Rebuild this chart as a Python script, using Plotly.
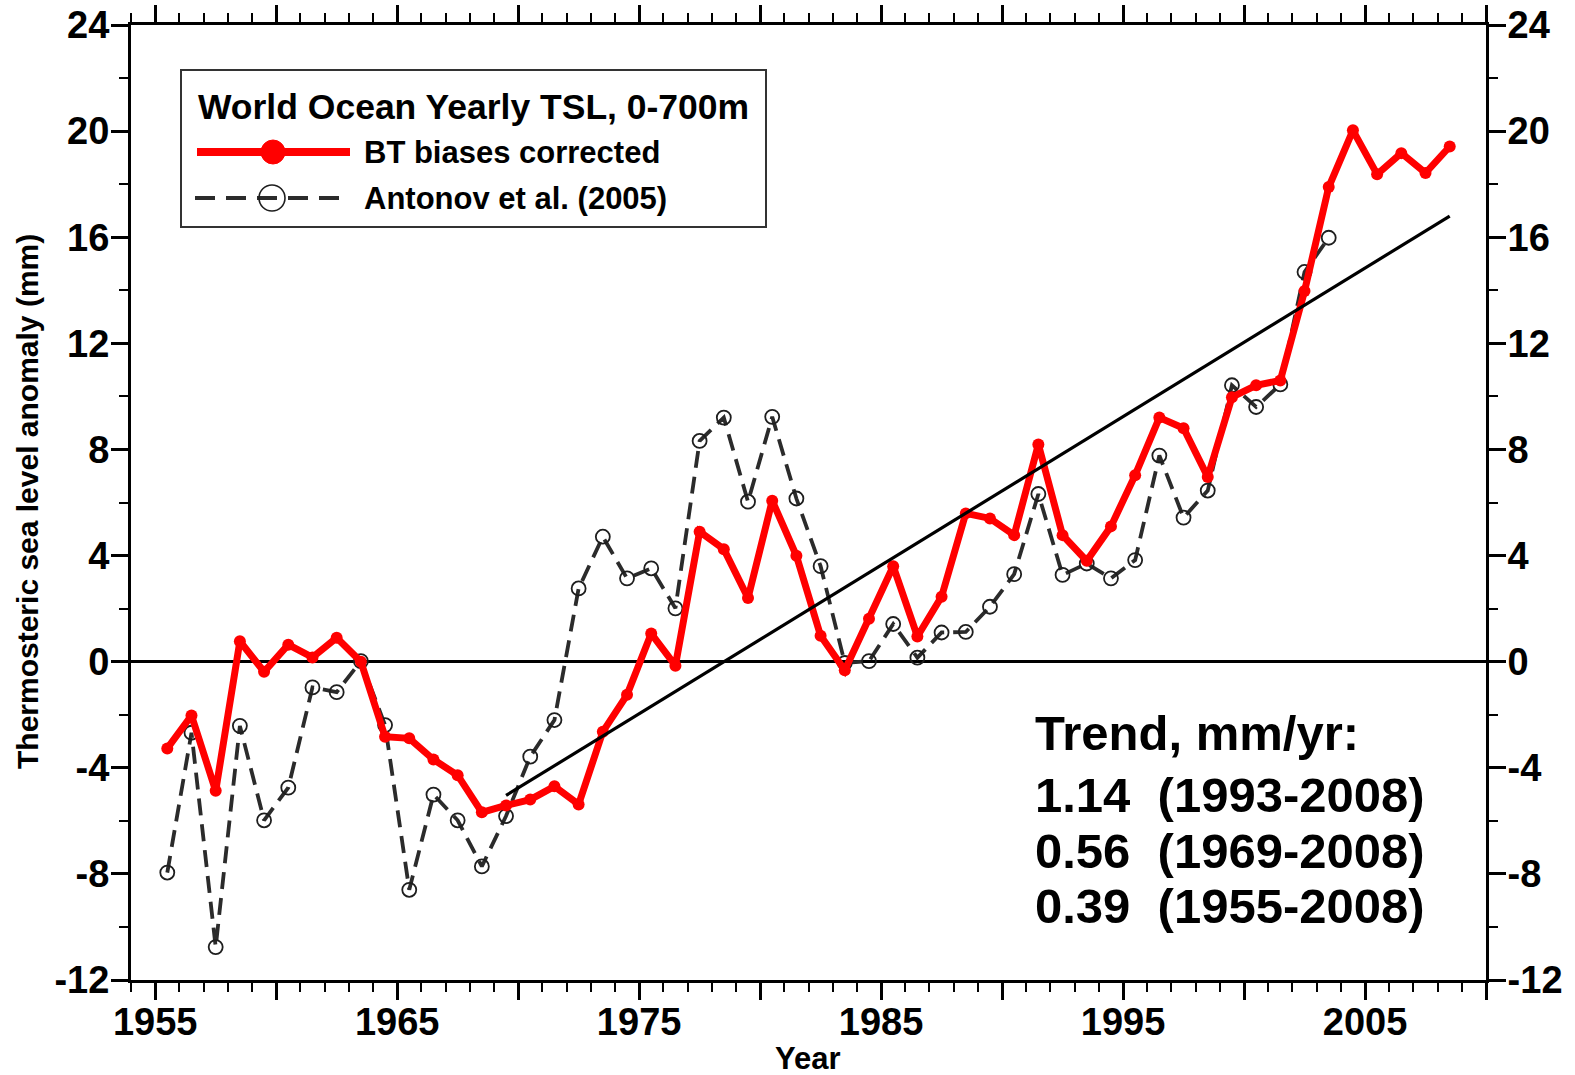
import numpy as np
import plotly.graph_objects as go

# World Ocean yearly thermosteric sea level (0-700 m), mm
years_bt = list(range(1955, 2009))
tsl_bt_corrected = [
    -3.27, -2.03, -4.87, 0.77, -0.38, 0.64, 0.16, 0.90, 0.00, -2.83,
    -2.89, -3.69, -4.28, -5.68, -5.42, -5.20, -4.70, -5.38, -2.64, -1.25,
    1.06, -0.15, 4.90, 4.24, 2.40, 6.07, 3.99, 0.98, -0.32, 1.62,
    3.60, 0.95, 2.45, 5.59, 5.40, 4.77, 8.19, 4.77, 3.80, 5.10,
    7.03, 9.20, 8.80, 6.96, 9.97, 10.42, 10.60, 13.97, 17.89, 20.03,
    18.37, 19.17, 18.42, 19.42,
]

years_antonov = list(range(1955, 2004))
tsl_antonov_2005 = [
    -7.95, -2.68, -10.76, -2.42, -5.98, -4.75, -0.97, -1.15, 0.02, -2.39,
    -8.60, -5.01, -5.98, -7.72, -5.82, -3.58, -2.20, 2.76, 4.71, 3.14,
    3.52, 2.01, 8.32, 9.20, 6.03, 9.23, 6.15, 3.60, -0.05, 0.02,
    1.42, 0.15, 1.10, 1.12, 2.07, 3.30, 6.32, 3.27, 3.70, 3.14,
    3.83, 7.77, 5.43, 6.45, 10.42, 9.60, 10.45, 14.69, 15.98,
]

# linear trends (mm/yr) quoted in the inset; the 1969-2008 one is drawn
trend_rates = ["1.14", "0.56", "0.39"]
trend_periods = ["(1993-2008)", "(1969-2008)", "(1955-2008)"]
drawn_trend_rate = 0.56
drawn_trend_period = (1969, 2008)

x_tick_values = list(range(1955, 2011, 5))
x_tick_labels = ["1955", "", "1965", "", "1975", "", "1985", "", "1995", "", "2005", ""]
y_tick_values = list(range(-12, 25, 4))
y_tick_labels = ["-12", "-8", "-4", "0", "4", "8", "12", "16", "20", "24"]

# ---------------------------------------------------------------------------
W, H = 1575, 1075
ML, MR, MT, MB = 131, 89, 25, 95
PW, PH = W - ML - MR, H - MT - MB

FONT = "Liberation Sans, Arial, Helvetica, sans-serif"


def fx(px):
    return (px - ML) / PW


def fy(py):
    return (H - MB - py) / PH


# yearly values are plotted at mid-year
x_bt = [y + 0.5 for y in years_bt]
x_ant = [y + 0.5 for y in years_antonov]

# trend line: stated rate, passing through the period mean (least-squares centre)
sel = [i for i, y in enumerate(years_bt) if drawn_trend_period[0] <= y <= drawn_trend_period[1]]
xm = np.mean([x_bt[i] for i in sel])
ym = np.mean([tsl_bt_corrected[i] for i in sel])
x_tr = [drawn_trend_period[0] + 0.5, drawn_trend_period[1] + 0.5]
y_tr = [ym + drawn_trend_rate * (x - xm) for x in x_tr]

fig = go.Figure()

fig.add_trace(go.Scatter(
    x=x_ant, y=tsl_antonov_2005, mode="lines+markers", name="Antonov et al. (2005)",
    line=dict(color="#2b2b2b", width=3.8, dash="17px,9px"),
    marker=dict(symbol="circle-open", size=14, color="#1e1e1e", line=dict(width=1.8)),
    showlegend=False, hoverinfo="x+y",
))
fig.add_trace(go.Scatter(
    x=x_bt, y=tsl_bt_corrected, mode="lines+markers", name="BT biases corrected",
    line=dict(color="#ff0000", width=7),
    marker=dict(symbol="circle", size=12, color="#ff0000"),
    showlegend=False, hoverinfo="x+y",
))
fig.add_trace(go.Scatter(
    x=x_tr, y=y_tr, mode="lines", name="Trend 1969-2008",
    line=dict(color="black", width=3.2), yaxis="y2",
    showlegend=False, hoverinfo="skip",
))

tickfont = dict(family=FONT, size=38, color="black", weight="bold")
common_y = dict(
    range=[-12, 24], tickmode="array", tickvals=y_tick_values, ticktext=y_tick_labels,
    ticks="outside", ticklen=17, tickwidth=2.5, tickcolor="black",
    showline=True, linewidth=3, linecolor="black", showgrid=False,
    tickfont=tickfont, automargin=False, ticklabelstandoff=-6,
    minor=dict(dtick=2, tick0=0, ticks="outside", ticklen=9, tickwidth=2, tickcolor="black", showgrid=False),
)

fig.update_layout(
    template="none",
    width=W, height=H,
    margin=dict(l=ML, r=MR, t=MT, b=MB, autoexpand=False),
    paper_bgcolor="white", plot_bgcolor="white",
    showlegend=False,
    xaxis=dict(
        range=[1954, 2010], tickmode="array", tickvals=x_tick_values, ticktext=x_tick_labels,
        ticks="outside", ticklen=17, tickwidth=2.5, tickcolor="black",
        showline=True, linewidth=3, linecolor="black", mirror="ticks",
        showgrid=False, zeroline=False, tickfont=tickfont, automargin=False,
        ticklabelstandoff=-11,
        minor=dict(dtick=1, tick0=1954, ticks="outside", ticklen=9, tickwidth=2, tickcolor="black", showgrid=False),
    ),
    yaxis=dict(**common_y, side="left", zeroline=True, zerolinecolor="black", zerolinewidth=2.5),
    yaxis2=dict(**common_y, side="right", overlaying="y", zeroline=False),
)

annotations = []
shapes = []

# axis titles
annotations.append(dict(
    text="Year", x=fx(808), y=fy(1058), xref="paper", yref="paper",
    xanchor="center", yanchor="middle", showarrow=False,
    font=dict(family=FONT, size=31, color="black", weight="bold"),
))
annotations.append(dict(
    text="Thermosteric sea level anomaly (mm)", x=fx(28), y=fy(502), xref="paper", yref="paper",
    xanchor="center", yanchor="middle", showarrow=False, textangle=-90,
    font=dict(family=FONT, size=30, color="black", weight="bold"),
))

# legend box
shapes.append(dict(type="rect", xref="paper", yref="paper",
                   x0=fx(181), x1=fx(766), y0=fy(227), y1=fy(70),
                   line=dict(color="#333333", width=2), fillcolor="white", layer="above"))
annotations.append(dict(
    text="World Ocean Yearly TSL, 0-700m", x=fx(196), y=fy(107), xref="paper", yref="paper",
    xanchor="left", yanchor="middle", showarrow=False,
    font=dict(family=FONT, size=35.5, color="black", weight="bold"),
))
# red sample
shapes.append(dict(type="line", xref="paper", yref="paper",
                   x0=fx(197), x1=fx(350), y0=fy(152), y1=fy(152),
                   line=dict(color="#ff0000", width=8), layer="above"))
shapes.append(dict(type="circle", xref="paper", yref="paper",
                   xsizemode="pixel", ysizemode="pixel",
                   xanchor=fx(273), yanchor=fy(152), x0=-12, x1=12, y0=-12, y1=12,
                   fillcolor="#ff0000", line=dict(color="#ff0000", width=1), layer="above"))
annotations.append(dict(
    text="BT biases corrected", x=fx(362), y=fy(152), xref="paper", yref="paper",
    xanchor="left", yanchor="middle", showarrow=False,
    font=dict(family=FONT, size=31, color="black", weight="bold"),
))
# dashed sample
shapes.append(dict(type="line", xref="paper", yref="paper",
                   x0=fx(195), x1=fx(345), y0=fy(198), y1=fy(198),
                   line=dict(color="#2b2b2b", width=3.8, dash="20px,11px"), layer="above"))
shapes.append(dict(type="circle", xref="paper", yref="paper",
                   xsizemode="pixel", ysizemode="pixel",
                   xanchor=fx(272), yanchor=fy(198), x0=-13, x1=13, y0=-13, y1=13,
                   fillcolor="rgba(0,0,0,0)", line=dict(color="#1e1e1e", width=1.6), layer="above"))
annotations.append(dict(
    text="Antonov et al. (2005)", x=fx(362), y=fy(199), xref="paper", yref="paper",
    xanchor="left", yanchor="middle", showarrow=False,
    font=dict(family=FONT, size=31, color="black", weight="bold"),
))

# trend inset
tfont = dict(family=FONT, size=49, color="black", weight="bold")
annotations.append(dict(
    text="Trend, mm/yr:", x=fx(1033), y=fy(733), xref="paper", yref="paper",
    xanchor="left", yanchor="middle", showarrow=False, font=tfont,
))
for i, (rate, period) in enumerate(zip(trend_rates, trend_periods)):
    yc = 795 + i * 55.5
    annotations.append(dict(
        text=rate + "\u00a0\u00a0" + period, x=fx(1033), y=fy(yc), xref="paper", yref="paper",
        xanchor="left", yanchor="middle", showarrow=False, font=tfont,
    ))

fig.update_layout(annotations=annotations, shapes=shapes)

fig.write_html("out.html")
